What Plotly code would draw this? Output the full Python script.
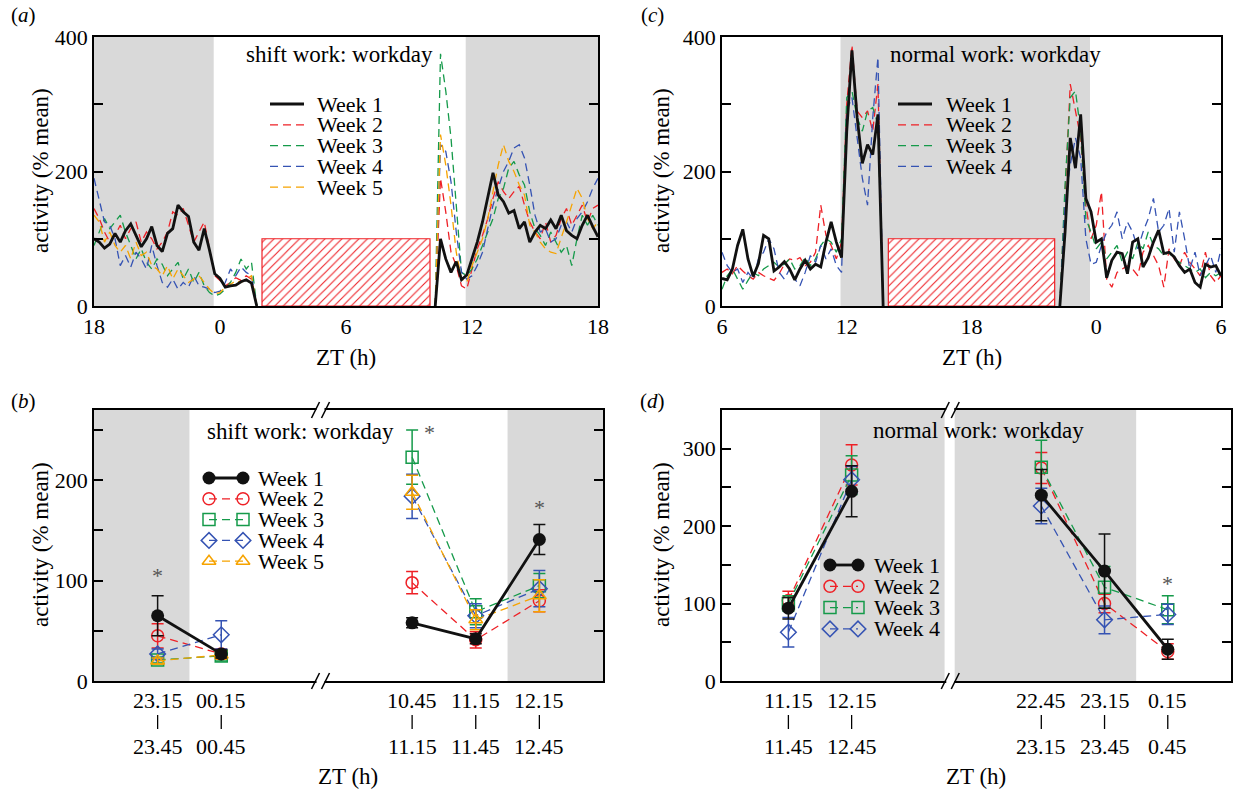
import numpy as np
import plotly.graph_objects as go

W, H = 1235, 790
FONT = "Liberation Serif, Times New Roman, DejaVu Serif, serif"
RED, GREEN, BLUE, ORANGE, BLACK = "#ee2026", "#159a4a", "#3553b3", "#f6a300", "#111111"
GRAY = "#d9d9d9"

# ---------------- DATA ----------------
weeks = ["Week 1", "Week 2", "Week 3", "Week 4", "Week 5"]

# (a) shift work, workday actogram (ZT, 0.25 h samples); device off between segments
ta_left = np.arange(-6.0, 1.5001, 0.25)
ta_right = np.arange(10.5, 18.0001, 0.25)
ta_off = [1.75, 10.25]
a_left = {
    "Week 1": [100, 95, 86, 92, 108, 95, 112, 122, 105, 88, 100, 118, 90, 81, 108, 115, 150, 140, 133, 95,
               83, 115, 83, 48, 41, 28, 30, 31, 36, 39, 34],
    "Week 2": [145, 130, 110, 95, 105, 120, 100, 115, 125, 95, 110, 100, 85, 95, 110, 140, 135, 145, 120, 95,
               110, 125, 85, 45, 38, 30, 35, 42, 38, 45, 40],
    "Week 3": [90, 110, 130, 115, 125, 135, 110, 90, 70, 85, 65, 55, 70, 62, 45, 55, 65, 40, 55, 35,
               50, 30, 20, 15, 18, 25, 35, 50, 70, 55, 65],
    "Week 4": [190, 155, 125, 120, 100, 60, 75, 58, 80, 70, 55, 90, 60, 35, 28, 40, 25, 35, 28, 45,
               30, 28, 25, 20, 22, 35, 55, 45, 58, 50, 45],
    "Week 5": [135, 125, 95, 110, 90, 80, 90, 70, 95, 75, 80, 60, 55, 45, 60, 40, 55, 45, 35, 40,
               45, 35, 25, 18, 20, 28, 32, 38, 35, 40, 45],
}
a_right = {
    "Week 1": [100, 70, 50, 66, 39, 46, 70, 95, 125, 160, 198, 165, 155, 138, 142, 115, 125, 95, 110, 120,
               115, 128, 115, 135, 112, 105, 100, 120, 135, 118, 103],
    "Week 2": [190, 140, 80, 60, 30, 25, 55, 85, 105, 130, 160, 185, 170, 160, 170, 178, 150, 125, 110, 100,
               125, 95, 105, 130, 145, 120, 135, 150, 125, 145, 150],
    "Week 3": [375, 320, 250, 150, 50, 45, 55, 70, 90, 110, 130, 160, 175, 205, 215, 195, 180, 140, 115, 105,
               90, 110, 95, 80, 90, 60, 100, 135, 120, 135, 120],
    "Week 4": [240, 230, 185, 110, 50, 40, 45, 60, 80, 115, 150, 175, 200, 215, 235, 240, 220, 180, 135, 110,
               115, 95, 100, 120, 125, 110, 130, 140, 155, 175, 190],
    "Week 5": [255, 210, 150, 80, 40, 35, 60, 80, 100, 130, 170, 210, 240, 215, 200, 180, 165, 120, 110, 95,
               85, 80, 78, 100, 125, 150, 175, 160, 130, 115, 125],
}

# (c) normal work, workday actogram
tc_left = np.arange(6.0, 13.5001, 0.25)
tc_right = np.arange(22.5, 30.0001, 0.25)
tc_off = [13.75, 22.25]
c_left = {
    "Week 1": [41, 39, 55, 90, 114, 70, 44, 63, 105, 100, 52, 58, 66, 55, 39, 55, 68, 55, 62, 58,
               95, 125, 95, 72, 260, 380, 280, 212, 240, 225, 285],
    "Week 2": [50, 55, 48, 60, 52, 45, 40, 50, 45, 42, 38, 48, 62, 70, 68, 72, 60, 65, 80, 150,
               105, 90, 70, 95, 300, 388, 290, 280, 290, 260, 330],
    "Week 3": [25, 45, 55, 40, 25, 38, 50, 45, 55, 60, 65, 58, 62, 70, 55, 60, 72, 60, 70, 90,
               100, 95, 80, 100, 310, 320, 280, 260, 290, 295, 270],
    "Week 4": [80, 60, 50, 55, 35, 50, 40, 70, 80, 100, 85, 50, 40, 55, 40, 30, 50, 75, 65, 90,
               70, 85, 60, 50, 290, 310, 250, 190, 150, 280, 370],
}
c_right = {
    "Week 1": [110, 250, 205, 285, 160, 140, 95, 100, 42, 68, 80, 78, 48, 95, 100, 58, 72, 95, 113, 78,
               80, 73, 60, 50, 55, 35, 28, 62, 58, 60, 45],
    "Week 2": [160, 330, 290, 250, 150, 100, 120, 170, 40, 28, 50, 55, 60, 55, 45, 80, 90, 75, 60, 28,
               85, 70, 60, 80, 65, 55, 45, 80, 45, 35, 45],
    "Week 3": [180, 310, 320, 260, 130, 110, 85, 95, 70, 80, 90, 65, 80, 70, 95, 85, 110, 90, 85, 75,
               80, 70, 65, 60, 55, 50, 55, 42, 50, 45, 50],
    "Week 4": [150, 210, 250, 220, 100, 62, 65, 90, 110, 120, 140, 100, 125, 110, 85, 110, 130, 160, 110, 120,
               145, 80, 140, 100, 55, 80, 45, 60, 75, 50, 85],
}

# hatched "work" blocks: start, end, height
work_a = (2.0, 10.0, 100)
work_c = (14.0, 22.0, 100)
dark_a = [(-6.0, -0.3), (11.7, 18.0)]
dark_c = [(11.7, 23.7)]

# (b) shift work half-hour bins
pos = [0, 1, 4, 5, 6]
b_top = ["23.15", "00.15", "10.45", "11.15", "12.15"]
b_bot = ["23.45", "00.45", "11.15", "11.45", "12.45"]
b_mean = {
    "Week 1": [65, 27, 58, 42, 141],
    "Week 2": [45, 27, 98, 41, 80],
    "Week 3": [21, 25, 223, 69, 95],
    "Week 4": [27, 46, 184, 65, 92],
    "Week 5": [20, 26, 188, 61, 85],
}
b_err = {
    "Week 1": [20, 4, 5, 5, 15],
    "Week 2": [12, 5, 11, 8, 11],
    "Week 3": [3, 5, 27, 13, 12],
    "Week 4": [5, 14, 22, 12, 18],
    "Week 5": [3, 4, 17, 10, 16],
}
b_star_x = [0, 4.28, 6]
b_star_y = [105, 248, 173]
dark_b = [(-1.0, 0.5), (5.5, 7.0)]

# (d) normal work half-hour bins
d_top = ["11.15", "12.15", "22.45", "23.15", "0.15"]
d_bot = ["11.45", "12.45", "23.15", "23.45", "0.45"]
d_mean = {
    "Week 1": [94, 245, 240, 142, 41],
    "Week 2": [104, 279, 275, 100, 38],
    "Week 3": [100, 266, 276, 121, 92],
    "Week 4": [63, 260, 226, 79, 86],
}
d_err = {
    "Week 1": [14, 33, 33, 48, 13],
    "Week 2": [12, 26, 20, 12, 10],
    "Week 3": [10, 25, 35, 27, 18],
    "Week 4": [19, 17, 23, 18, 13],
}
d_star_x = [6]
d_star_y = [126]
dark_d = [(0.5, 2.47), (2.63, 5.5)]
break_pos = 2.56

# ---------------- STYLE ----------------
colors = {"Week 1": BLACK, "Week 2": RED, "Week 3": GREEN, "Week 4": BLUE, "Week 5": ORANGE}
symbols = {"Week 1": "circle", "Week 2": "circle-open", "Week 3": "square-open",
           "Week 4": "diamond-open", "Week 5": "triangle-up-open"}


def line_style(w):
    if w == "Week 1":
        return dict(color=BLACK, width=2.8)
    return dict(color=colors[w], width=1.3, dash="8px,5px")


def marker_style(w):
    if w == "Week 1":
        return dict(symbol="circle", size=13, color=BLACK)
    return dict(symbol=symbols[w], size=12, color=colors[w], line=dict(width=1.5, color=colors[w]))


fig = go.Figure()

# hatched work blocks
for (s, e, h), xa, ya in [(work_a, "x", "y"), (work_c, "x2", "y2")]:
    fig.add_trace(go.Bar(x=[(s + e) / 2], y=[h], width=[e - s], xaxis=xa, yaxis=ya,
                         marker=dict(color="white", line=dict(color=RED, width=1.2),
                                     pattern=dict(shape="/", fgcolor=RED, bgcolor="white",
                                                  size=6, solidity=0.18)),
                         showlegend=False, hoverinfo="skip"))

# actogram lines
for w in ["Week 2", "Week 3", "Week 4", "Week 5", "Week 1"]:
    x = list(ta_left) + [ta_off[0], None, ta_off[1]] + list(ta_right)
    y = a_left[w] + [0, None, 0] + a_right[w]
    fig.add_trace(go.Scatter(x=x, y=y, mode="lines", line=line_style(w), xaxis="x", yaxis="y",
                             showlegend=False))
for w in ["Week 2", "Week 3", "Week 4", "Week 1"]:
    x = list(tc_left) + [tc_off[0], None, tc_off[1]] + list(tc_right)
    y = c_left[w] + [0, None, 0] + c_right[w]
    fig.add_trace(go.Scatter(x=x, y=y, mode="lines", line=line_style(w), xaxis="x2", yaxis="y2",
                             showlegend=False))


def split(v, fill):
    return list(v[:2]) + [fill] + list(v[2:])


for means, errs, xa, ya in [(b_mean, b_err, "x3", "y3"), (d_mean, d_err, "x4", "y4")]:
    ws = [w for w in ["Week 2", "Week 3", "Week 4", "Week 5", "Week 1"] if w in means]
    for w in ws:
        fig.add_trace(go.Scatter(
            x=split(pos, None), y=split(means[w], None), mode="lines+markers",
            line=line_style(w), marker=marker_style(w),
            error_y=dict(type="data", array=split(errs[w], 0), color=colors[w], thickness=1.5, width=6),
            xaxis=xa, yaxis=ya, showlegend=False))

# ---------------- LEGENDS (overlay pixel axis) ----------------
legend_specs = [
    (weeks, 270, 304, 315, 104, 20.8, False),
    (weeks[:4], 898, 932, 944, 104, 20.8, False),
    (weeks, 209, 243, 256, 478, 20.8, True),
    (weeks[:4], 830, 858, 872, 565, 21.3, True),
]
annotations = []
for ws, x0, x1, xt, y0, dy, mk in legend_specs:
    for i, w in enumerate(ws):
        yy = y0 + i * dy
        fig.add_trace(go.Scatter(x=[x0, x1], y=[yy, yy], mode="lines+markers" if mk else "lines",
                                 line=line_style(w), marker=marker_style(w) if mk else None,
                                 xaxis="x5", yaxis="y5", showlegend=False, hoverinfo="skip"))
        annotations.append(dict(x=xt, y=yy, xref="x5", yref="y5", text=w, showarrow=False,
                                xanchor="left", yanchor="middle",
                                font=dict(family=FONT, size=22, color="black")))


# ---------------- LAYOUT ----------------
def px_x(p):
    return p / W


def px_y(p):
    return 1 - p / H


ax_common = dict(showline=True, linecolor="black", linewidth=1.5, showgrid=False, zeroline=False,
                 automargin=False, tickfont=dict(family=FONT, size=22, color="black"))

layout = dict(template="none", width=W, height=H, autosize=False,
              margin=dict(l=0, r=0, t=0, b=0, pad=0), showlegend=False,
              paper_bgcolor="white", plot_bgcolor="rgba(0,0,0,0)",
              font=dict(family=FONT, color="black"))

layout["xaxis"] = dict(ax_common, domain=[px_x(94), px_x(598)], range=[-6, 18], anchor="y",
                       tickvals=[-6, 0, 6, 12, 18], ticktext=["18", "0", "6", "12", "18"],
                       ticks="", mirror=True)
layout["yaxis"] = dict(ax_common, domain=[px_y(306), px_y(37)], range=[0, 400], anchor="x",
                       tickvals=[0, 100, 200, 300, 400], ticktext=["0", "", "200", "", "400"],
                       ticks="inside", ticklen=9, tickwidth=1.5, tickcolor="black", mirror="allticks")
layout["xaxis2"] = dict(ax_common, domain=[px_x(722), px_x(1221)], range=[6, 30], anchor="y2",
                        tickvals=[6, 12, 18, 24, 30], ticktext=["6", "12", "18", "0", "6"],
                        ticks="", mirror=True)
layout["yaxis2"] = dict(ax_common, domain=[px_y(306), px_y(37)], range=[0, 400], anchor="x2",
                        tickvals=[0, 100, 200, 300, 400], ticktext=["0", "", "200", "", "400"],
                        ticks="inside", ticklen=9, tickwidth=1.5, tickcolor="black", mirror="allticks")
layout["xaxis3"] = dict(ax_common, domain=[px_x(94), px_x(603)], range=[-1, 7], anchor="y3",
                        showticklabels=False, ticks="", mirror=True)
layout["yaxis3"] = dict(ax_common, domain=[px_y(681), px_y(410)], range=[0, 270], anchor="x3",
                        tickvals=[0, 50, 100, 150, 200, 250], ticktext=["0", "", "100", "", "200", ""],
                        ticks="inside", ticklen=9, tickwidth=1.5, tickcolor="black", mirror="allticks")
layout["xaxis4"] = dict(ax_common, domain=[px_x(722), px_x(1231)], range=[-1.05, 7], anchor="y4",
                        showticklabels=False, ticks="", mirror=True)
layout["yaxis4"] = dict(ax_common, domain=[px_y(681), px_y(410)], range=[0, 350], anchor="x4",
                        tickvals=[0, 50, 100, 150, 200, 250, 300],
                        ticktext=["0", "", "100", "", "200", "", "300"],
                        ticks="inside", ticklen=9, tickwidth=1.5, tickcolor="black", mirror="allticks")
layout["xaxis5"] = dict(domain=[0, 1], range=[0, W], anchor="y5", visible=False, fixedrange=True,
                        automargin=False)
layout["yaxis5"] = dict(domain=[0, 1], range=[H, 0], anchor="x5", visible=False, fixedrange=True,
                        automargin=False)

shapes = []
for regions, xa, ya in [(dark_a, "x", "y"), (dark_c, "x2", "y2"), (dark_b, "x3", "y3"), (dark_d, "x4", "y4")]:
    for x0, x1 in regions:
        shapes.append(dict(type="rect", xref=xa, yref=ya + " domain", x0=x0, x1=x1, y0=0, y1=1,
                           fillcolor=GRAY, line=dict(width=0), layer="below"))

# axis break marks
for xa, ya in [("x3", "y3"), ("x4", "y4")]:
    for yv in (0, 1):
        shapes.append(dict(type="rect", xref=xa, yref=ya + " domain", xsizemode="pixel", ysizemode="pixel",
                           xanchor=break_pos, yanchor=yv, x0=-4, x1=4, y0=-2, y1=2,
                           fillcolor="white", line=dict(width=0), layer="above"))
        for off in (-5, 5):
            shapes.append(dict(type="line", xref=xa, yref=ya + " domain", xsizemode="pixel",
                               ysizemode="pixel", xanchor=break_pos, yanchor=yv,
                               x0=off - 4, x1=off + 4, y0=-8, y1=8,
                               line=dict(color="black", width=1.5), layer="above"))

# category labels (two lines joined by a short bar) for b and d
for tops, bots, xa, ya in [(b_top, b_bot, "x3", "y3"), (d_top, d_bot, "x4", "y4")]:
    for p, t, b in zip(pos, tops, bots):
        for txt, shift in [(t, -19), (b, -65)]:
            annotations.append(dict(x=p, y=0, xref=xa, yref=ya + " domain", yshift=shift, text=txt,
                                    showarrow=False, xanchor="center", yanchor="middle",
                                    font=dict(family=FONT, size=22, color="black")))
        shapes.append(dict(type="line", xref=xa, yref=ya + " domain", ysizemode="pixel", yanchor=0,
                           x0=p, x1=p, y0=-34, y1=-48, line=dict(color="black", width=1.3),
                           layer="above"))

# asterisks
for xs, ys, xa, ya in [(b_star_x, b_star_y, "x3", "y3"), (d_star_x, d_star_y, "x4", "y4")]:
    for xv, yv in zip(xs, ys):
        annotations.append(dict(x=xv, y=yv, xref=xa, yref=ya, text="*", showarrow=False,
                                font=dict(family=FONT, size=22, color="#555555")))

# titles, axis titles, panel labels
for txt, x, y in [("shift work: workday", 339, 54), ("normal work: workday", 995, 54),
                  ("shift work: workday", 300, 431), ("normal work: workday", 978, 430)]:
    annotations.append(dict(x=px_x(x), y=px_y(y), xref="paper", yref="paper", text=txt, showarrow=False,
                            xanchor="center", yanchor="middle", font=dict(family=FONT, size=23, color="black")))
for x, y in [(346, 357), (972, 357), (348, 776), (976, 776)]:
    annotations.append(dict(x=px_x(x), y=px_y(y), xref="paper", yref="paper", text="ZT (h)",
                            showarrow=False, xanchor="center", yanchor="middle",
                            font=dict(family=FONT, size=23, color="black")))
for x, y in [(40, 171), (661, 171), (40, 545), (661, 545)]:
    annotations.append(dict(x=px_x(x), y=px_y(y), xref="paper", yref="paper", text="activity (% mean)",
                            textangle=-90, showarrow=False, xanchor="center", yanchor="middle",
                            font=dict(family=FONT, size=23, color="black")))
for lab, x, y in [("a", 23, 15), ("c", 652, 15), ("b", 23, 401), ("d", 652, 401)]:
    annotations.append(dict(x=px_x(x), y=px_y(y), xref="paper", yref="paper",
                            text="(<i>%s</i>)" % lab, showarrow=False, xanchor="center",
                            yanchor="middle", font=dict(family=FONT, size=21, color="black")))

layout["shapes"] = shapes
layout["annotations"] = annotations
fig.update_layout(**layout)

fig.write_html("out.html", config={"displayModeBar": False},
               post_script="document.body.style.margin='0';document.body.style.padding='0';")
